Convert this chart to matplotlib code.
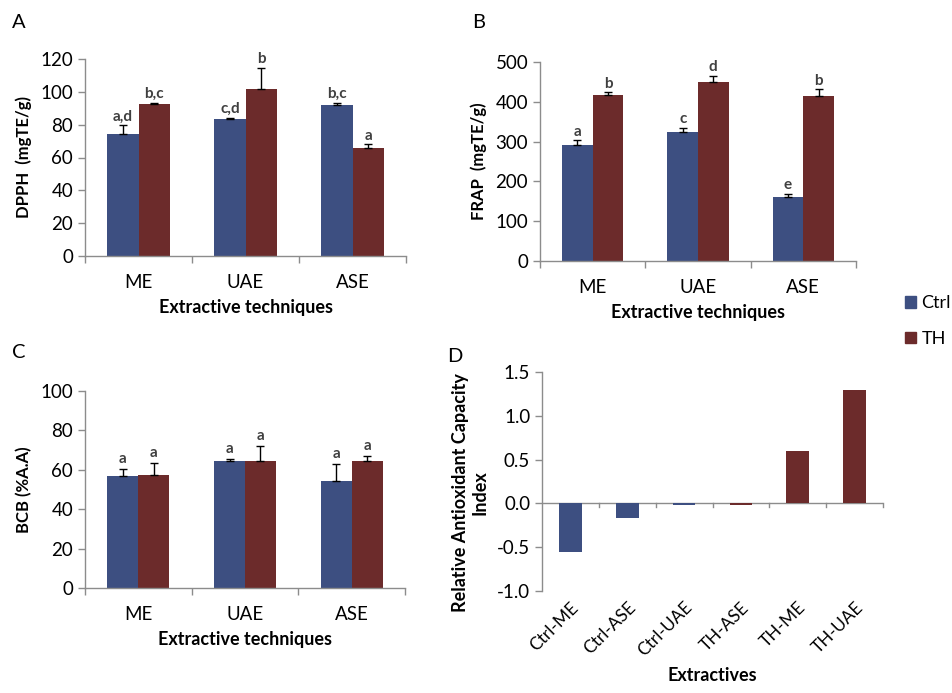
import numpy as np
import matplotlib
matplotlib.use("Agg")
import matplotlib.pyplot as plt
from matplotlib.patches import Patch

plt.rcParams['font.family'] = ['Lato', 'DejaVu Sans']

# ---- data ----
techniques = ["ME", "UAE", "ASE"]

dpph_ctrl = [74.5, 83.5, 92.0]
dpph_ctrl_err = [5.0, 0.8, 1.5]
dpph_th = [92.5, 101.5, 65.5]
dpph_th_err = [1.0, 13.0, 2.5]
dpph_ctrl_lbl = ["a,d", "c,d", "b,c"]
dpph_th_lbl = ["b,c", "b", "a"]

frap_ctrl = [291, 325, 161]
frap_ctrl_err = [12, 10, 8]
frap_th = [417, 451, 414]
frap_th_err = [7, 14, 17]
frap_ctrl_lbl = ["a", "c", "e"]
frap_th_lbl = ["b", "d", "b"]

bcb_ctrl = [57.0, 64.5, 54.5]
bcb_ctrl_err = [3.5, 1.0, 8.5]
bcb_th = [57.5, 64.5, 64.5]
bcb_th_err = [6.0, 7.5, 2.5]
bcb_ctrl_lbl = ["a", "a", "a"]
bcb_th_lbl = ["a", "a", "a"]

extractives = ["Ctrl-ME", "Ctrl-ASE", "Ctrl-UAE", "TH-ASE", "TH-ME", "TH-UAE"]
raci = [-0.55, -0.17, -0.02, -0.02, 0.60, 1.30]
raci_group = ["Ctrl", "Ctrl", "Ctrl", "TH", "TH", "TH"]

BLUE = "#3d4f81"
RED = "#6c2b2b"
AXC = "#8c8c8c"
W, H = 952, 693

fig = plt.figure(figsize=(W / 100, H / 100), dpi=100)


def px_axes(x0, y_top, x1, y_bot):
    return fig.add_axes([x0 / W, 1 - y_bot / H, (x1 - x0) / W, (y_bot - y_top) / H])


def style(ax):
    for s in ["top", "right"]:
        ax.spines[s].set_visible(False)
    for s in ["left", "bottom"]:
        ax.spines[s].set_color(AXC)
        ax.spines[s].set_linewidth(1.0)
    ax.tick_params(axis="both", colors=AXC, labelcolor="black", labelsize=13.5,
                   length=5, width=1.0)


def grouped(ax, ctrl, ctrl_err, th, th_err, ctrl_lbl, th_lbl, ymax, step, ylabel, off):
    x = np.arange(len(techniques)) + 0.5
    bw = 0.29
    ax.bar(x - bw / 2, ctrl, bw, color=BLUE, zorder=2)
    ax.bar(x + bw / 2, th, bw, color=RED, zorder=2)
    ax.errorbar(x - bw / 2, ctrl, yerr=[np.zeros(3), ctrl_err], fmt="none",
                ecolor="black", elinewidth=1, capsize=3, zorder=3)
    ax.errorbar(x + bw / 2, th, yerr=[np.zeros(3), th_err], fmt="none",
                ecolor="black", elinewidth=1, capsize=3, zorder=3)
    for xi, v, e, t in zip(x - bw / 2, ctrl, ctrl_err, ctrl_lbl):
        ax.text(xi, v + e + off, t, ha="center", va="bottom", fontsize=11,
                fontweight="bold", color="#404040")
    for xi, v, e, t in zip(x + bw / 2, th, th_err, th_lbl):
        ax.text(xi, v + e + off, t, ha="center", va="bottom", fontsize=11,
                fontweight="bold", color="#404040")
    ax.set_xlim(0, 3)
    ax.set_ylim(0, ymax)
    ax.set_yticks(np.arange(0, ymax + 1, step))
    ax.set_xticks([0, 1, 2, 3])
    ax.set_xticklabels([])
    ax.set_xticks(x, minor=True)
    ax.set_xticklabels(techniques, minor=True)
    ax.tick_params(axis="x", which="minor", length=0, labelsize=13.5, pad=13)
    ax.tick_params(axis="x", which="major", length=6)
    ax.set_ylabel(ylabel, fontsize=12, fontweight="bold", labelpad=6)
    ax.set_xlabel("Extractive techniques", fontsize=13, fontweight="bold", labelpad=6)
    style(ax)


axA = px_axes(85, 59, 406, 256)
grouped(axA, dpph_ctrl, dpph_ctrl_err, dpph_th, dpph_th_err, dpph_ctrl_lbl, dpph_th_lbl,
        120, 20, "DPPH  (mgTE/g)", 1.0)

axB = px_axes(540, 62, 856, 261)
grouped(axB, frap_ctrl, frap_ctrl_err, frap_th, frap_th_err, frap_ctrl_lbl, frap_th_lbl,
        500, 100, "FRAP  (mgTE/g)", 4)

axC = px_axes(85, 391, 405, 588)
grouped(axC, bcb_ctrl, bcb_ctrl_err, bcb_th, bcb_th_err, bcb_ctrl_lbl, bcb_th_lbl,
        100, 20, "BCB (%A.A)", 1.5)

# ---- panel D ----
axD = px_axes(542, 372, 883, 591)
xd = np.arange(len(extractives)) + 0.5
cols = [BLUE if g == "Ctrl" else RED for g in raci_group]
axD.bar(xd, raci, 0.4, color=cols, zorder=2)
axD.set_xlim(0, 6)
axD.set_ylim(-1.0, 1.5)
yt = np.arange(-1.0, 1.51, 0.5)
axD.set_yticks(yt)
axD.set_yticklabels([f"{v:.1f}" for v in yt])
style(axD)
axD.spines["bottom"].set_visible(False)
axD.axhline(0, color=AXC, lw=1.0, zorder=1)
for xb in range(1, 7):
    axD.plot([xb, xb], [0, -0.04], color=AXC, lw=1.0, clip_on=False)
axD.set_xticks(xd)
axD.set_xticklabels(extractives, rotation=45, ha="right", rotation_mode="anchor",
                    fontsize=12.5)
axD.tick_params(axis="x", length=0, pad=6)
axD.set_ylabel("Relative Antioxidant Capacity\nIndex", fontsize=13,
               fontweight="bold", labelpad=6, y=0.45)
axD.set_xlabel("Extractives", fontsize=13, fontweight="bold", labelpad=5)

# panel letters
for letter, (px, py) in zip("ABCD", [(12, 22), (472, 22), (12, 353), (447, 357)]):
    fig.text(px / W, 1 - py / H, letter, fontsize=14.5, ha="left", va="center")

# legend
handles = [Patch(color=BLUE, label="Ctrl"), Patch(color=RED, label="TH")]
fig.legend(handles=handles, loc="upper left", bbox_to_anchor=(898 / W, 1 - 288 / H),
           frameon=False, fontsize=13, handlelength=0.6, handleheight=0.6,
           handletextpad=0.3, labelspacing=1.1, borderaxespad=0)

fig.savefig("out.png", dpi=100)
